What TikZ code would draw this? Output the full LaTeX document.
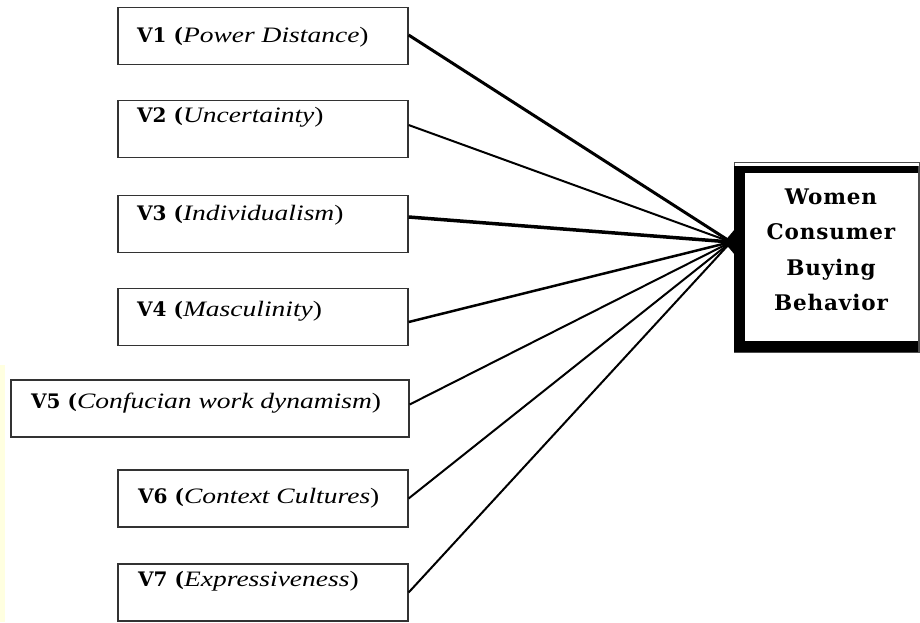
\documentclass[tikz,border=0pt]{standalone}
\usepackage{fontspec}
\setmainfont{Liberation Serif}
\newfontfamily\vfont{DejaVu Serif}[BoldFont={* Bold}]
\newfontfamily\itfont{Liberation Serif}[FakeStretch=1.25]
\newfontfamily\wfont{DejaVu Serif}[LetterSpace=4]
\definecolor{paleyellow}{HTML}{FFFFE0}
\begin{document}
\begin{tikzpicture}[x=1pt,y=-1pt,
  vbox/.style={draw=black!80, line width=1.2pt, rectangle, inner sep=0pt, minimum height=57pt},
  vtext/.style={anchor=west, inner sep=0pt, font=\fontsize{22}{24}\selectfont},
  link/.style={line width=2pt, black}]
\useasboundingbox (0,0) rectangle (920,622);
\fill[paleyellow] (0,365) rectangle (5,622);
% left boxes
\node[vbox, minimum width=290pt] (v1) at (263,36) {};
\node[vbox, minimum width=290pt] (v2) at (263,129) {};
\node[vbox, minimum width=290pt] (v3) at (263,224) {};
\node[vbox, minimum width=290pt] (v4) at (263,317) {};
\node[vbox, minimum width=398pt] (v5) at (210,408.5) {};
\node[vbox, minimum width=290pt] (v6) at (263,498.5) {};
\node[vbox, minimum width=290pt] (v7) at (263,592.5) {};
\newcommand{\vlab}[2]{{\vfont\bfseries\fontsize{20}{24}\selectfont #1 (}{\itfont\itshape #2}{\itfont )}}
\node[vtext] (t1) at (137,37) {\vlab{V1}{Power Distance}};
\node[vtext] (t2) at (137,117) {\vlab{V2}{Uncertainty}};
\node[vtext] (t3) at (137,215) {\vlab{V3}{Individualism}};
\node[vtext] (t4) at (137,311) {\vlab{V4}{Masculinity}};
\node[vtext] (t5) at (31,403) {\vlab{V5}{Confucian work dynamism}};
\node[vtext] (t6) at (138,498) {\vlab{V6}{Context Cultures}};
\node[vtext] (t7) at (138,581) {\vlab{V7}{Expressiveness}};
% target box
\node[draw=black!70, line width=1pt, rectangle, inner sep=0pt, minimum width=185pt, minimum height=190pt] (wcb) at (826.5,257) {};
\fill[black] (734,166) rectangle (745,352);
\fill[black] (734,166) rectangle (919,173);
\fill[black] (734,341) rectangle (919,352);
\draw[black!70, line width=1.5pt] (918.5,166) -- (918.5,352);
\node[font=\wfont\bfseries\fontsize{21.5}{35.5}\selectfont, align=center, inner sep=0pt] (wt) at (831,250) {Women\\Consumer\\Buying\\Behavior};
% connectors
\coordinate (hub) at (731,242);
\fill[black] (724,242) -- (735,229) -- (735,255) -- cycle;
\draw[link, line width=3pt] ([yshift=1pt]v1.east) -- (hub);
\draw[link, line width=2pt] ([yshift=4pt]v2.east) -- (hub);
\draw[link, line width=3.5pt] ([yshift=7pt]v3.east) -- (hub);
\draw[link, line width=2.5pt] ([yshift=-5pt]v4.east) -- (hub);
\draw[link] ([yshift=4pt]v5.east) -- (hub);
\draw[link] (v6.east) -- (hub);
\draw[link] (v7.east) -- (hub);
\end{tikzpicture}
\end{document}
